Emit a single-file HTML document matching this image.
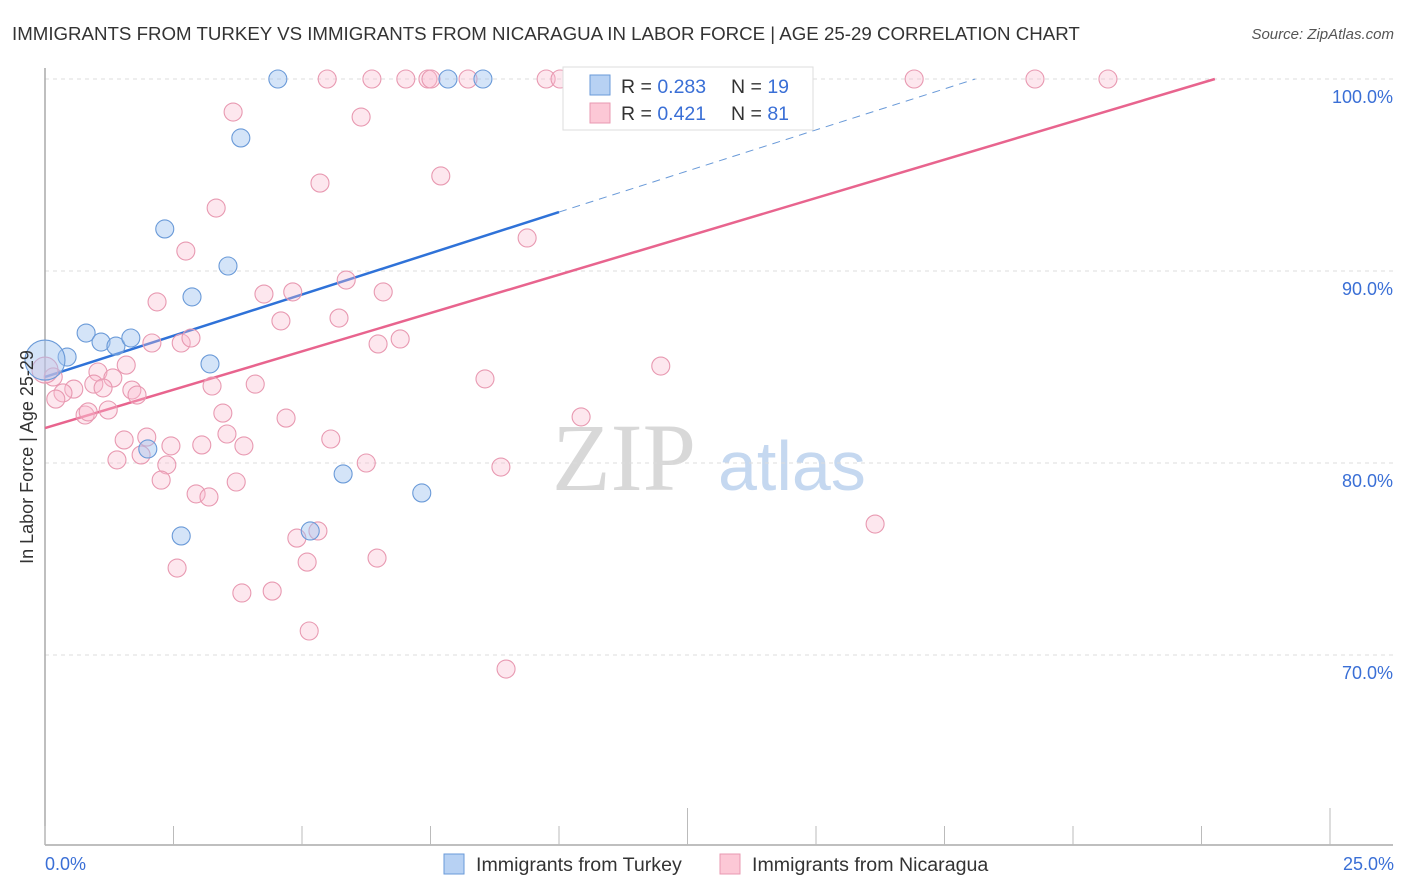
<!DOCTYPE html>
<html><head><meta charset="utf-8"><style>
body{margin:0;background:#fff;font-family:"Liberation Sans",sans-serif;}
svg{display:block}
</style></head><body>
<svg id="chart" width="1406" height="892" viewBox="0 0 1406 892">
<text x="12" y="40" font-size="18.7" fill="#333">IMMIGRANTS FROM TURKEY VS IMMIGRANTS FROM NICARAGUA IN LABOR FORCE | AGE 25-29 CORRELATION CHART</text>
<text x="1394" y="39" font-size="15" fill="#555" font-style="italic" text-anchor="end">Source: ZipAtlas.com</text>
<g>
<text x="552" y="490" font-family="Liberation Serif,serif" font-size="96" fill="#d8d8d8">ZIP</text>
<text x="718" y="490" font-size="70" fill="#c5d8f0">atlas</text>
</g>
<g id="grid"></g>
<g id="axes"></g>
<g id="trend"></g>
<g id="pts"></g>
<text x="33" y="457" font-size="18" fill="#333" text-anchor="middle" transform="rotate(-90 33 457)">In Labor Force | Age 25-29</text>
<text x="45" y="870" font-size="18" fill="#3a6fd6">0.0%</text>
<text x="1394" y="870" font-size="18" fill="#3a6fd6" text-anchor="end">25.0%</text>
<g>
<rect x="563" y="67" width="250" height="63" fill="#fff" stroke="#ddd"/>
<rect x="590" y="75" width="20" height="20" fill="#b7d1f3" stroke="#6a9ad8"/>
<rect x="590" y="103" width="20" height="20" fill="#fcc8d6" stroke="#e899b1"/>
<text x="621" y="93" font-size="19.5" fill="#333">R = <tspan fill="#3a6fd6">0.283</tspan></text>
<text x="731" y="93" font-size="19.5" fill="#333">N = <tspan fill="#3a6fd6">19</tspan></text>
<text x="621" y="120" font-size="19.5" fill="#333">R = <tspan fill="#3a6fd6">0.421</tspan></text>
<text x="731" y="120" font-size="19.5" fill="#333">N = <tspan fill="#3a6fd6">81</tspan></text>
</g>
<g>
<rect x="444" y="854" width="20" height="20" fill="#b7d1f3" stroke="#6a9ad8"/>
<text x="476" y="871" font-size="19.6" fill="#333">Immigrants from Turkey</text>
<rect x="720" y="854" width="20" height="20" fill="#fcc8d6" stroke="#e899b1"/>
<text x="752" y="871" font-size="19.6" fill="#333">Immigrants from Nicaragua</text>
</g>
</svg>
<script>
const yTicks=[100,90,80,70];
const yTickLabels=["100.0%","90.0%","80.0%","70.0%"];
const xTicks=[0,2.5,5,7.5,10,12.5,15,17.5,20,22.5,25];
const turkeyX=[4.53,7.84,8.52,3.81,2.33,3.56,2.86,0.80,1.09,1.38,1.67,0.43,0.0,3.21,2.00,5.80,7.33,2.65,5.16];
const turkeyY=[100,100,100,96.93,92.19,90.26,88.65,86.77,86.30,86.09,86.51,85.52,85.36,85.16,80.73,79.43,78.44,76.20,76.46];
const nicX=[5.49,6.36,7.02,7.45,7.51,8.23,9.75,10.02,16.91,19.26,20.68,3.66,6.15,5.35,7.70,3.33,9.38,2.74,5.86,4.26,4.82,6.58,2.18,4.59,5.72,2.08,2.65,2.84,6.48,6.91,11.98,8.56,1.58,1.03,1.32,0.16,0.0,0.95,1.13,0.56,0.35,0.21,1.69,1.79,3.25,4.09,0.78,0.84,1.23,3.46,4.69,10.43,1.54,1.98,2.45,3.05,3.54,3.87,5.56,1.40,1.87,2.37,6.25,8.87,2.26,3.72,2.94,3.19,16.15,5.31,4.90,6.46,5.10,2.57,3.83,4.42,5.14,8.97];
const nicY=[100,100,100,100,100,100,100,100,100,100,100,98.28,98.02,94.58,94.95,93.28,91.72,91.04,89.53,88.80,88.91,88.91,88.39,87.40,87.55,86.25,86.25,86.51,86.20,86.46,85.05,84.38,85.10,84.74,84.43,84.48,84.84,84.11,83.91,83.85,83.65,83.33,83.80,83.54,84.01,84.11,82.50,82.66,82.76,82.60,82.34,82.40,81.20,81.35,80.89,80.94,81.51,80.89,81.25,80.16,80.42,79.90,80.00,79.79,79.11,79.01,78.39,78.23,76.82,76.46,76.09,75.05,74.84,74.53,73.23,73.33,71.25,69.27];
const turkeyTrend=[84.48,93.07,100]; const turkeyTrendX=[0,10,18.1];
const nicTrend=[81.82,100]; const nicTrendX=[0,22.76];
const NS='http://www.w3.org/2000/svg';
const sx=v=>45+v*51.4, sy=v=>79+(100-v)*19.2;
function mk(tag,attrs,parent){const e=document.createElementNS(NS,tag);for(const k in attrs)e.setAttribute(k,attrs[k]);parent.appendChild(e);return e;}
const grid=document.getElementById('grid'),axes=document.getElementById('axes'),trend=document.getElementById('trend'),pts=document.getElementById('pts');
yTicks.forEach((t,i)=>{
 const l=mk('line',{x1:45,x2:1393,y1:sy(t),y2:sy(t),stroke:'#ddd','stroke-dasharray':'4,4'},grid);
 
 
 const tx=mk('text',{x:1393,y:sy(t)+24,'font-size':18,fill:'#3a6fd6','text-anchor':'end'},grid);
 tx.textContent=yTickLabels[i];
 
 
});
const ya=mk('line',{x1:45,x2:45,y1:68,y2:845,stroke:'#aaa','stroke-width':1.5},axes);


const xa=mk('line',{x1:45,x2:1393,y1:845,y2:845,stroke:'#aaa','stroke-width':1.5},axes);


xTicks.forEach((t,i)=>{
 const major=(i===5||i===10);
 const tk=mk('line',{x1:sx(t),x2:sx(t),y1:major?808:826,y2:845,stroke:'#bbb'},axes);
 
 
});
function dot(x,y,r,blue,name){
 const c=mk('circle',{cx:sx(x),cy:sy(y),r:r,fill:blue?'rgba(160,195,240,0.45)':'rgba(248,185,205,0.35)',stroke:blue?'#6a9ad8':'#e899b1','stroke-width':1.1},pts);
 
 
}
nicX.forEach((x,i)=>dot(x,nicY[i],x===0?13:9,false,'nicaragua-point'));
turkeyX.forEach((x,i)=>dot(x,turkeyY[i],x===0?20:9,true,'turkey-point'));
const bt=mk('line',{x1:sx(turkeyTrendX[0]),y1:sy(turkeyTrend[0]),x2:sx(turkeyTrendX[1]),y2:sy(turkeyTrend[1]),stroke:'#2f72d8','stroke-width':2.5},trend);


const bd=mk('line',{x1:sx(turkeyTrendX[1]),y1:sy(turkeyTrend[1]),x2:sx(turkeyTrendX[2]),y2:sy(turkeyTrend[2]),stroke:'#6a9ad8','stroke-width':1,'stroke-dasharray':'8,6'},trend);


const pt=mk('line',{x1:sx(nicTrendX[0]),y1:sy(nicTrend[0]),x2:sx(nicTrendX[1]),y2:sy(nicTrend[1]),stroke:'#e8648e','stroke-width':2.5},trend);


</script>
</body></html>
